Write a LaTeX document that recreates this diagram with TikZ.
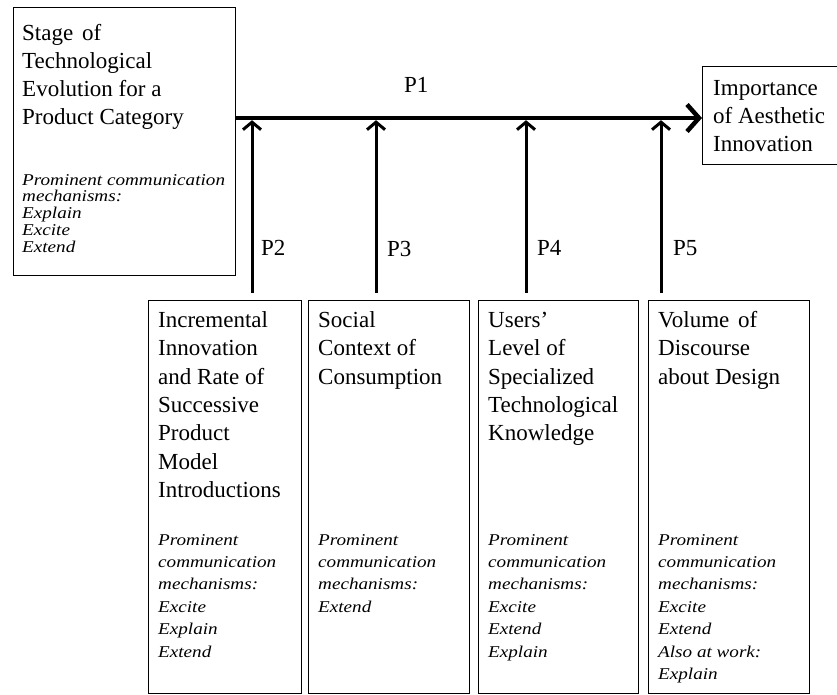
\documentclass[tikz,border=0pt]{standalone}
\usepackage{fontspec}
\setmainfont{Liberation Serif}
\newfontfamily\itf[FakeStretch=1.16]{Liberation Serif}
\usetikzlibrary{arrows.meta}
\newcommand\txtlines[1]{\parbox[t]{220pt}{\raggedright #1}}
\tikzset{
  box/.style={draw, line width=1.1pt, inner sep=0pt, anchor=north west},
  maintxt/.style={anchor=base west, inner sep=0pt, font=\fontsize{23}{28.3}\selectfont},
  ittxt/.style={anchor=base west, inner sep=0pt, font=\itf\itshape\fontsize{16.5}{22.4}\selectfont},
  ittight/.style={ittxt, font=\itf\itshape\fontsize{16.5}{16.8}\selectfont},
  plabel/.style={anchor=base west, inner sep=0pt, font=\fontsize{23}{28}\selectfont},
  mainarrow/.style={line width=4.5pt, -{Straight Barb[length=12pt,width=27pt]}},
  subarrow/.style={line width=3pt, -{Straight Barb[length=7.5pt,width=18pt]}, shorten >=2.2pt},
}
\begin{document}
\begin{tikzpicture}[x=1pt,y=-1pt]
\clip (0,0) rectangle (837,694);
\fill[white] (0,0) rectangle (837,694);
% boxes
\node[box, minimum width=222pt, minimum height=268pt] (L) at (13,7) {};
\node[box, minimum width=200pt, minimum height=98pt] (R) at (702,66) {};
\node[box, minimum width=153pt, minimum height=393pt] (B1) at (148,300) {};
\node[box, minimum width=161pt, minimum height=393pt] (B2) at (308,300) {};
\node[box, minimum width=160pt, minimum height=393pt] (B3) at (478,300) {};
\node[box, minimum width=161pt, minimum height=393pt] (B4) at (648,300) {};
% texts
\node[maintxt] (Lt) at (22,40) {\txtlines{Stage\hspace{3pt} of\\Technological\\Evolution for a\\Product Category}};
\node[ittight] (Li) at (22,185) {\txtlines{Prominent communication\\mechanisms:\\Explain\\Excite\\Extend}};
\node[maintxt] (Rt) at (713,95) {\txtlines{Importance\\of Aesthetic\\Innovation}};
\node[maintxt] (B1t) at (158,327.5) {\txtlines{Incremental\\Innovation\\and Rate of\\Successive\\Product\\Model\\Introductions}};
\node[ittxt] (B1i) at (158,545) {\txtlines{Prominent\\communication\\mechanisms:\\Excite\\Explain\\Extend}};
\node[maintxt] (B2t) at (318,327.5) {\txtlines{Social\\Context of\\Consumption}};
\node[ittxt] (B2i) at (318,545) {\txtlines{Prominent\\communication\\mechanisms:\\Extend}};
\node[maintxt] (B3t) at (488,327.5) {\txtlines{Users’\\Level of\\Specialized\\Technological\\Knowledge}};
\node[ittxt] (B3i) at (488,545) {\txtlines{Prominent\\communication\\mechanisms:\\Excite\\Extend\\Explain}};
\node[maintxt] (B4t) at (658,327.5) {\txtlines{Volume\hspace{3pt} of\\Discourse\\about Design}};
\node[ittxt] (B4i) at (658,545) {\txtlines{Prominent\\communication\\mechanisms:\\Excite\\Extend\\Also at work:\\Explain}};
% labels
\node[plabel] (P1) at (404,92) {P1};
\node[plabel] (P2) at (261,255) {P2};
\node[plabel] (P3) at (387,256) {P3};
\node[plabel] (P4) at (537,255) {P4};
\node[plabel] (P5) at (673,255) {P5};
% connectors
\coordinate (ml) at (235,118);
\draw[mainarrow] (L.east |- ml) -- (R.west |- ml);
\coordinate (a2) at (252,293);
\coordinate (a3) at (376,293);
\coordinate (a4) at (526,293);
\coordinate (a5) at (661,293);
\draw[subarrow] (a2) -- (a2 |- ml);
\draw[subarrow] (a3) -- (a3 |- ml);
\draw[subarrow] (a4) -- (a4 |- ml);
\draw[subarrow] (a5) -- (a5 |- ml);
\end{tikzpicture}
\end{document}
